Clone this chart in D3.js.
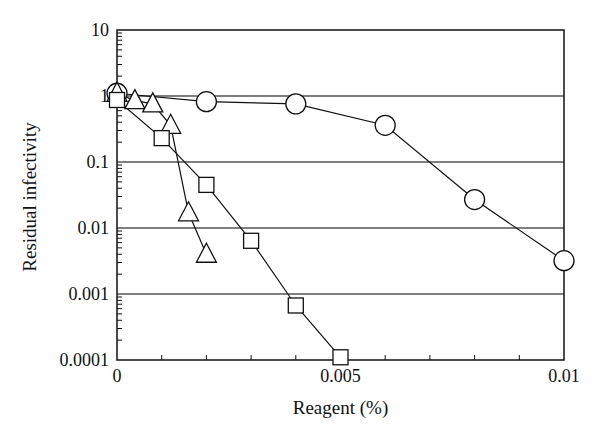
<!DOCTYPE html>
<html>
<head>
<meta charset="utf-8">
<script src="https://cdn.jsdelivr.net/npm/d3@7"></script>
<style>
  body { margin: 0; background: #fff; }
  text { font-family: "Liberation Serif", "DejaVu Serif", serif; fill: #111; }
</style>
</head>
<body>
<div id="chart"></div>
<script>
// reagent concentration (%) and residual infectivity per series
const circleX = [0, 0.002, 0.004, 0.006, 0.008, 0.01];
const circleY = [1.1, 0.82, 0.76, 0.36, 0.027, 0.0032];
const triangleX = [0, 0.0004, 0.0008, 0.0012, 0.0016, 0.002];
const triangleY = [1.1, 0.85, 0.76, 0.36, 0.017, 0.004];
const squareX = [0, 0.001, 0.002, 0.003, 0.004, 0.005];
const squareY = [0.87, 0.23, 0.045, 0.0064, 0.00067, 0.00011];

const yTicks = [0.0001, 0.001, 0.01, 0.1, 1, 10];
const yTickLabels = ['0.0001', '0.001', '0.01', '0.1', '1', '10'];
const xTicks = [0, 0.005, 0.01];
const xTickLabels = ['0', '0.005', '0.01'];

const margin = { top: 30, right: 36, bottom: 75, left: 117 };
const width = 600 - margin.left - margin.right;
const height = 435 - margin.top - margin.bottom;

const svg = d3.select('#chart').append('svg')
    .attr('width', 600)
    .attr('height', 435);

const g = svg.append('g')
    .attr('transform', `translate(${margin.left},${margin.top})`);

const xScale = d3.scaleLinear().domain([0, 0.01]).range([0, width]);
const yScale = d3.scaleLog().domain([0.0001, 10]).range([height, 0]);

// tick labels (drawn first so markers can sit over the "1")
g.append('g').selectAll('text')
    .data(yTicks)
    .enter().append('text')
    .attr('x', -8)
    .attr('y', d => yScale(d))
    .attr('dy', '0.33em')
    .attr('text-anchor', 'end')
    .style('font-size', '18px')
    .text((d, i) => yTickLabels[i]);

g.append('g').selectAll('text')
    .data(xTicks)
    .enter().append('text')
    .attr('x', d => xScale(d))
    .attr('y', height + 22)
    .attr('text-anchor', 'middle')
    .style('font-size', '18px')
    .text((d, i) => xTickLabels[i]);

// gridlines at each decade
g.append('g').selectAll('line')
    .data(yTicks.slice(1, -1))
    .enter().append('line')
    .attr('x1', 0).attr('x2', width)
    .attr('y1', d => yScale(d)).attr('y2', d => yScale(d))
    .attr('stroke', '#555').attr('stroke-width', 1.4);

// minor ticks, pointing inward
let minorY = [];
for (let e = -4; e < 1; e++) {
    for (let m = 2; m <= 9; m++) minorY.push(m * Math.pow(10, e));
}
g.append('g').selectAll('line')
    .data(minorY)
    .enter().append('line')
    .attr('x1', 0).attr('x2', 5)
    .attr('y1', d => yScale(d)).attr('y2', d => yScale(d))
    .attr('stroke', '#111').attr('stroke-width', 1);

g.append('g').selectAll('line')
    .data(d3.range(1, 10).map(i => i * 0.001))
    .enter().append('line')
    .attr('x1', d => xScale(d)).attr('x2', d => xScale(d))
    .attr('y1', height).attr('y2', height - 5)
    .attr('stroke', '#111').attr('stroke-width', 1);

// frame
g.append('rect')
    .attr('width', width).attr('height', height)
    .attr('fill', 'none').attr('stroke', '#111').attr('stroke-width', 1.5);

// axis labels
svg.append('text')
    .attr('x', margin.left + width / 2)
    .attr('y', 414)
    .attr('text-anchor', 'middle')
    .style('font-size', '19px')
    .text('Reagent (%)');

svg.append('text')
    .attr('transform', 'translate(36,197) rotate(-90)')
    .attr('text-anchor', 'middle')
    .style('font-size', '19px')
    .text('Residual infectivity');

const line = d3.line().x(d => xScale(d[0])).y(d => yScale(d[1]));
const zip = (xs, ys) => xs.map((x, i) => [x, ys[i]]);

const circles = zip(circleX, circleY);
const triangles = zip(triangleX, triangleY);
const squares = zip(squareX, squareY);

[circles, triangles, squares].forEach(s => {
    g.append('path')
        .datum(s)
        .attr('d', line)
        .attr('fill', 'none')
        .attr('stroke', '#111')
        .attr('stroke-width', 1.2);
});

g.append('g').selectAll('circle')
    .data(circles)
    .enter().append('circle')
    .attr('cx', d => xScale(d[0]))
    .attr('cy', d => yScale(d[1]))
    .attr('r', 10)
    .attr('fill', '#fff').attr('stroke', '#111').attr('stroke-width', 1.3);

g.append('g').selectAll('path')
    .data(triangles)
    .enter().append('path')
    .attr('d', 'M0,-11 L10,8 L-10,8 Z')
    .attr('transform', d => `translate(${xScale(d[0])},${yScale(d[1])})`)
    .attr('fill', '#fff').attr('stroke', '#111').attr('stroke-width', 1.3);

g.append('g').selectAll('rect')
    .data(squares)
    .enter().append('rect')
    .attr('x', d => xScale(d[0]) - 7.5)
    .attr('y', d => yScale(d[1]) - 7.5)
    .attr('width', 15).attr('height', 15)
    .attr('fill', '#fff').attr('stroke', '#111').attr('stroke-width', 1.3);
</script>
</body>
</html>
